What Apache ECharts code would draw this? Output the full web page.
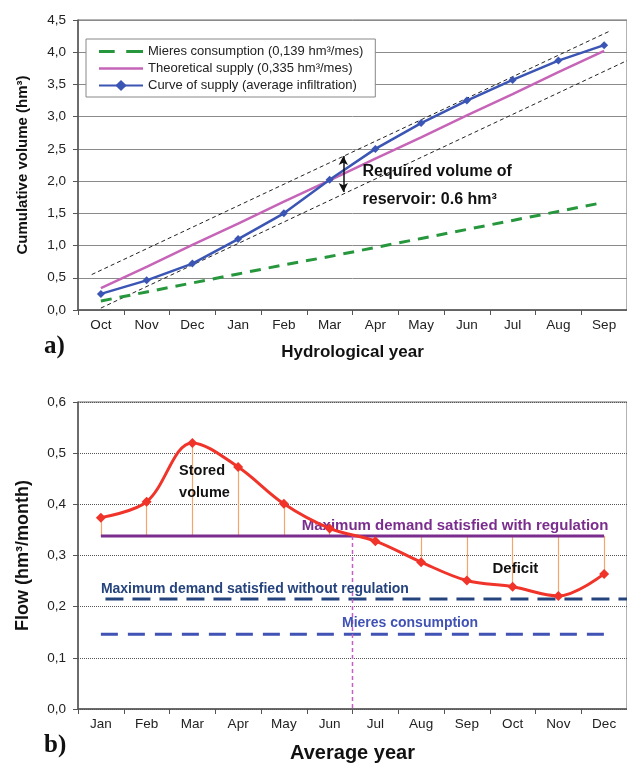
<!DOCTYPE html>
<html>
<head>
<meta charset="utf-8">
<script src="https://cdn.jsdelivr.net/npm/echarts@6/dist/echarts.min.js"></script>
<style>
  html, body { margin: 0; padding: 0; background: #fff; }
  #chart { width: 627px; height: 764px; }
</style>
</head>
<body>
<div id="chart"></div>
<script>
// ---- a) cumulative volume over the hydrological year ----
const hydroMonths = ['Oct', 'Nov', 'Dec', 'Jan', 'Feb', 'Mar', 'Apr', 'May', 'Jun', 'Jul', 'Aug', 'Sep'];
const mieresCumulative = [0.14, 0.28, 0.42, 0.56, 0.70, 0.83, 0.97, 1.11, 1.25, 1.39, 1.53, 1.67];
const theoreticalCumulative = [0.34, 0.67, 1.01, 1.34, 1.68, 2.01, 2.35, 2.68, 3.02, 3.35, 3.69, 4.02];
const supplyCumulative = [0.25, 0.46, 0.72, 1.10, 1.50, 2.02, 2.50, 2.90, 3.25, 3.57, 3.87, 4.11];
const envelopeUpper = [[-0.2, 0.55], [11.1, 4.32]];
const envelopeLower = [[0, 0.03], [11.5, 3.87]];
const reservoirArrow = [[5.3, 1.83], [5.3, 2.39]];
const volumeTicks = [0, 4.5, 0.5];

// ---- b) monthly flow over the average year ----
const avgMonths = ['Jan', 'Feb', 'Mar', 'Apr', 'May', 'Jun', 'Jul', 'Aug', 'Sep', 'Oct', 'Nov', 'Dec'];
const monthlyFlow = [0.374, 0.405, 0.520, 0.473, 0.401, 0.353, 0.328, 0.287, 0.251, 0.239, 0.221, 0.264];
const demandRegulated = [[0, 0.338], [11, 0.338]];
const demandUnregulated = [[0.1, 0.215], [11.5, 0.215]];
const mieresFlow = [[0, 0.146], [11, 0.146]];
const regulationSplit = [[5.5, 0.338], [5.5, 0]];
const flowTicks = [0, 0.6, 0.1];

const FONT = '"Liberation Sans", Arial, sans-serif';
const fmt = v => v.toFixed(1).replace('.', ',');

// legend samples for the two plain lines (series without symbols)
const dashedIcon = 'path://M0,0H15V3H0Z M26,0H42V3H26Z';
const solidIcon = 'path://M0,0H44V2.5H0Z';

const chart = echarts.init(document.getElementById('chart'), null, { renderer: 'canvas' });

const catAxis = (gridIndex, data, name, nameSize, nameGap) => ({
    type: 'category', gridIndex, data, boundaryGap: true,
    name, nameLocation: 'middle', nameGap,
    nameTextStyle: { fontFamily: FONT, fontWeight: 'bold', fontSize: nameSize, color: '#111' },
    axisLine: { onZero: false, lineStyle: { color: '#555', width: 1.5 } },
    axisTick: { show: true, length: 5, lineStyle: { color: '#555' } },
    axisLabel: { fontFamily: FONT, fontSize: 13.5, color: '#222', margin: 8 },
    splitLine: { show: false }
});

const hiddenValueX = gridIndex => ({
    type: 'value', gridIndex, min: -0.5, max: 11.5, show: false
});

const valueY = (gridIndex, ticks, name, nameSize, nameGap, splitType, splitColor) => ({
    type: 'value', gridIndex, min: ticks[0], max: ticks[1], interval: ticks[2],
    name, nameLocation: 'middle', nameGap, nameRotate: 90,
    nameTextStyle: { fontFamily: FONT, fontWeight: 'bold', fontSize: nameSize, color: '#111' },
    axisLine: { show: true, onZero: false, lineStyle: { color: '#555', width: 1.5 } },
    axisTick: { show: true, length: 5, lineStyle: { color: '#555' } },
    axisLabel: { fontFamily: FONT, fontSize: 13.5, color: '#222', margin: 12, formatter: fmt },
    splitLine: { show: true, lineStyle: { color: splitColor, type: splitType, width: 1 } }
});

const annotation = (xIdx, yIdx, text, pos, style) => ({
    type: 'scatter', xAxisIndex: xIdx, yAxisIndex: yIdx, symbolSize: 0, z: 4, silent: true,
    data: [{ value: pos }],
    label: Object.assign({
        show: true, position: 'right', distance: 0, formatter: text,
        fontFamily: FONT, fontWeight: 'bold', align: 'left',
        textBorderWidth: 0, opacity: 1
    }, style),
    emphasis: { disabled: true }
});

const option = {
    animation: false,
    backgroundColor: '#fff',
    grid: [
        { left: 78, top: 20, width: 559, height: 290, show: true, borderColor: '#666', borderWidth: 1 },
        { left: 78, top: 402, width: 559, height: 309, show: true, borderColor: '#666', borderWidth: 1 }
    ],
    legend: {
        data: [
            { name: 'Mieres consumption (0,139 hm³/mes)', icon: dashedIcon },
            { name: 'Theoretical supply (0,335 hm³/mes)', icon: solidIcon },
            { name: 'Curve of supply (average infiltration)' }
        ],
        orient: 'vertical', left: 86, top: 39, padding: [6, 12, 5, 12],
        itemWidth: 44, itemHeight: 14, itemGap: 4,
        backgroundColor: '#fff', borderColor: '#888', borderWidth: 1,
        textStyle: { fontFamily: FONT, fontSize: 13, color: '#222' }
    },
    xAxis: [
        catAxis(0, hydroMonths, 'Hydrological year', 17, 34),
        hiddenValueX(0),
        catAxis(1, avgMonths, 'Average year', 20, 34),
        hiddenValueX(1)
    ],
    yAxis: [
        valueY(0, volumeTicks, 'Cumulative volume (hm³)', 15, 48, 'solid', '#8a8a8a'),
        valueY(1, flowTicks, 'Flow (hm³/month)', 18, 46, 'dotted', '#555')
    ],
    graphic: [
        { type: 'text', left: 44, top: 334, style: { text: 'a)', font: 'bold 25px "Liberation Serif", serif', fill: '#111' } },
        { type: 'text', left: 44, top: 733, style: { text: 'b)', font: 'bold 25px "Liberation Serif", serif', fill: '#111' } }
    ],
    series: [
        // top chart
        {
            name: 'Mieres consumption (0,139 hm³/mes)', type: 'line', xAxisIndex: 0, yAxisIndex: 0,
            data: mieresCumulative, symbol: 'none', z: 3,
            lineStyle: { color: '#27973d', width: 3, type: [11, 8] }, itemStyle: { color: '#27973d' }
        },
        {
            name: 'Theoretical supply (0,335 hm³/mes)', type: 'line', xAxisIndex: 0, yAxisIndex: 0,
            data: theoreticalCumulative, symbol: 'none', z: 3,
            lineStyle: { color: '#c665b8', width: 2.5 }, itemStyle: { color: '#c665b8' }
        },
        {
            name: 'Curve of supply (average infiltration)', type: 'line', xAxisIndex: 0, yAxisIndex: 0,
            data: supplyCumulative, symbol: 'diamond', symbolSize: 8, z: 4,
            lineStyle: { color: '#3a55b4', width: 2.5 }, itemStyle: { color: '#3a55b4' }
        },
        {
            type: 'line', xAxisIndex: 1, yAxisIndex: 0, data: envelopeUpper, symbol: 'none', z: 2,
            lineStyle: { color: '#222', width: 1, type: [4, 3] }
        },
        {
            type: 'line', xAxisIndex: 1, yAxisIndex: 0, data: envelopeLower, symbol: 'none', z: 2,
            lineStyle: { color: '#222', width: 1, type: [4, 3] },
            markLine: {
                silent: true, symbol: ['arrow', 'arrow'], symbolSize: [7, 9], label: { show: false },
                lineStyle: { color: '#111', width: 1.5, type: 'solid' },
                data: [[{ coord: reservoirArrow[0] }, { coord: reservoirArrow[1] }]]
            }
        },
        annotation(1, 0, 'Required volume of\nreservoir: 0.6 hm³', [5.72, 1.93],
            { fontSize: 16, lineHeight: 28, color: '#111' }),

        // bottom chart
        {
            type: 'line', xAxisIndex: 3, yAxisIndex: 1, data: demandRegulated, symbol: 'none', z: 3,
            lineStyle: { color: '#7b2d8e', width: 3 }
        },
        {
            type: 'line', xAxisIndex: 3, yAxisIndex: 1, data: demandUnregulated, symbol: 'none', z: 3,
            lineStyle: { color: '#25437c', width: 3, type: [18, 9] }
        },
        {
            type: 'line', xAxisIndex: 3, yAxisIndex: 1, data: mieresFlow, symbol: 'none', z: 3,
            lineStyle: { color: '#4052b4', width: 3, type: [17, 10] }
        },
        {
            type: 'line', xAxisIndex: 3, yAxisIndex: 1, data: regulationSplit, symbol: 'none', z: 3,
            lineStyle: { color: '#c45fc4', width: 1.5, type: [4, 3] }
        },
        {
            type: 'line', xAxisIndex: 2, yAxisIndex: 1, data: monthlyFlow, smooth: 0.35,
            symbol: 'diamond', symbolSize: 10, z: 5,
            lineStyle: { color: '#f0342a', width: 3 }, itemStyle: { color: '#f0342a' },
            markLine: {
                silent: true, symbol: 'none', label: { show: false }, z: 2,
                lineStyle: { color: '#f5a46c', width: 1.2, type: 'solid' },
                data: avgMonths.map((m, i) => [
                    { coord: [m, demandRegulated[0][1]] },
                    { coord: [m, monthlyFlow[i]] }
                ])
            }
        },
        annotation(3, 1, 'Stored\nvolume', [1.71, 0.443], { fontSize: 14.5, lineHeight: 22, color: '#111' }),
        annotation(3, 1, 'Maximum demand satisfied with regulation', [4.39, 0.357], { fontSize: 15, color: '#7b2d8e' }),
        annotation(3, 1, 'Deficit', [8.56, 0.274], { fontSize: 15, color: '#111' }),
        annotation(3, 1, 'Maximum demand satisfied without regulation', [0.0, 0.235], { fontSize: 14, color: '#25437c' }),
        annotation(3, 1, 'Mieres consumption', [5.27, 0.167], { fontSize: 14, color: '#4052b4' })
    ]
};

chart.setOption(option);
</script>
</body>
</html>
